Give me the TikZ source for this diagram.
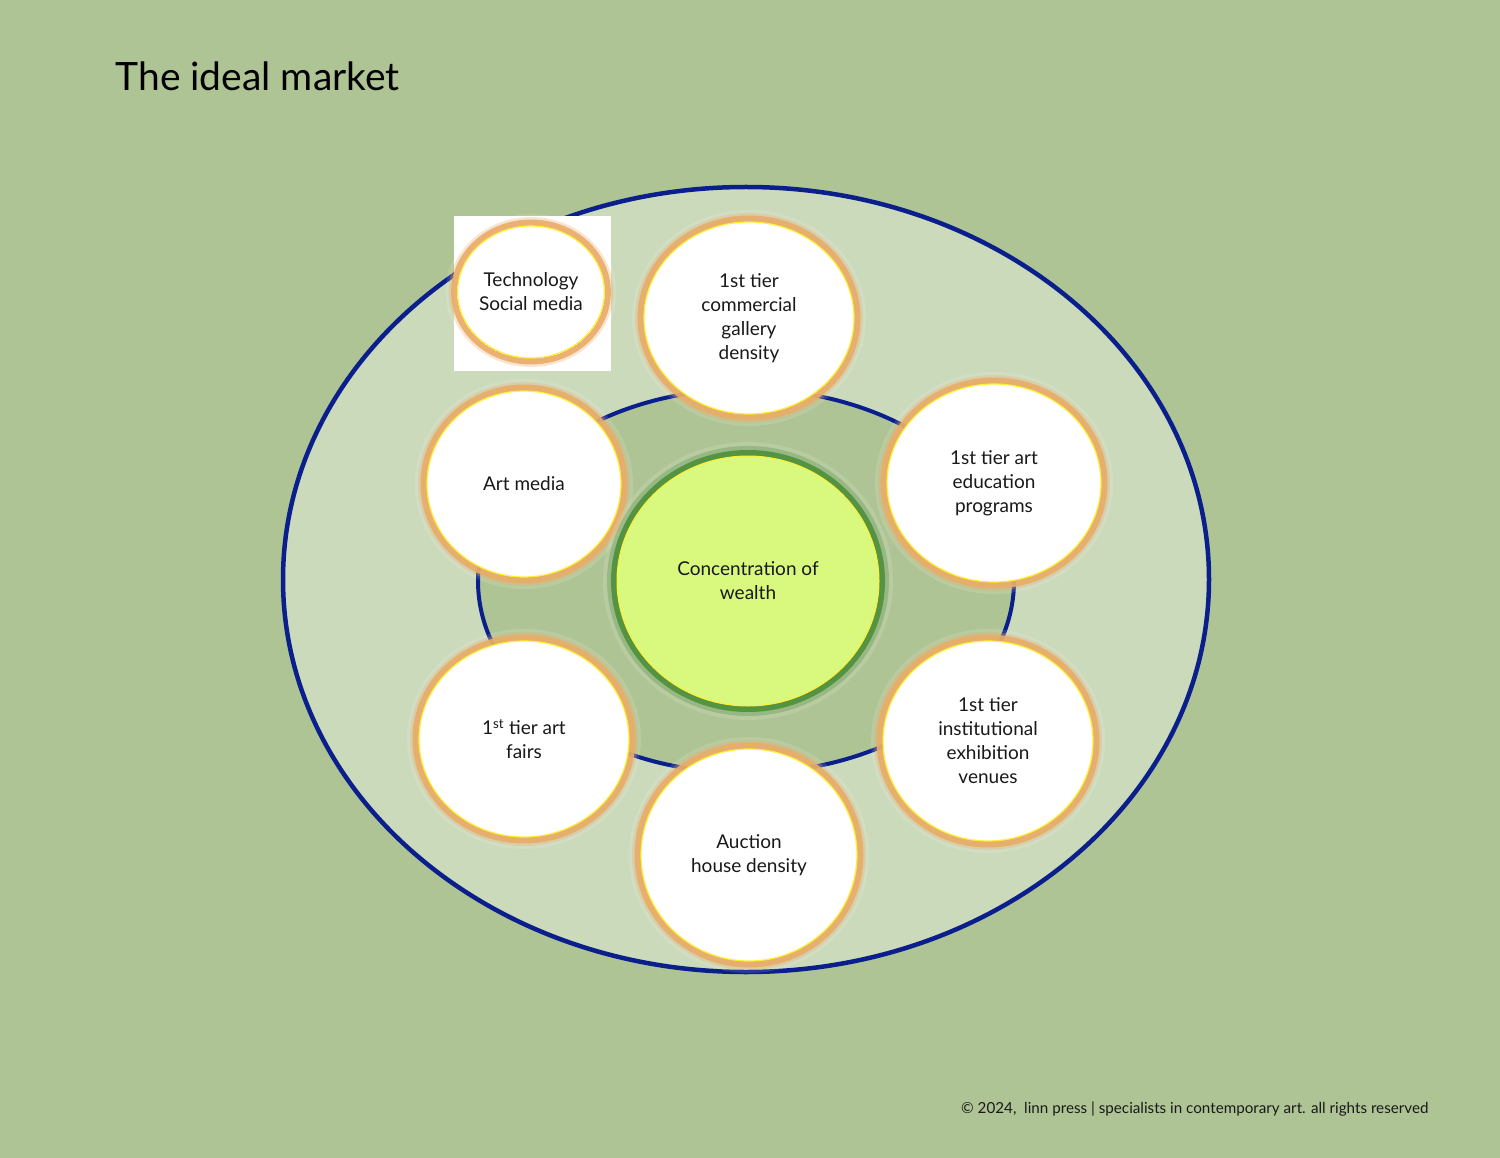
\documentclass[tikz,border=0pt]{standalone}
\usepackage{fontspec}
\setmainfont{Lato}
\usetikzlibrary{shapes.geometric}
\definecolor{bgc}{HTML}{AFC495}
\definecolor{outerc}{HTML}{CBDABB}
\definecolor{navyc}{HTML}{0A1E8C}
\definecolor{limec}{HTML}{D8F97E}
\definecolor{dkgreen}{HTML}{4C8F3C}
\definecolor{glowc}{HTML}{E9AC68}
\definecolor{yellowb}{HTML}{FFEE33}
\newcommand\circfont{\fontsize{19}{24}\selectfont}
\begin{document}
\begin{tikzpicture}[x=1pt,y=-1pt,
  sat/.style={ellipse, inner sep=0pt, fill=white, draw=yellowb, line width=1.2pt,
    align=center, font=\circfont, text=black!90,
    preaction={draw=white, draw opacity=0.12, line width=24pt},
    preaction={draw=glowc, draw opacity=0.3, line width=18pt},
    preaction={draw=glowc, draw opacity=0.9, line width=13pt}},
  core/.style={ellipse, inner sep=0pt, fill=limec, draw=yellowb, line width=1pt,
    align=center, font=\circfont, text=black!90,
    preaction={draw=white, draw opacity=0.12, line width=28pt},
    preaction={draw=dkgreen, draw opacity=0.3, line width=20pt},
    preaction={draw=dkgreen, draw opacity=0.9, line width=12pt}},
  ringline/.style={ellipse, inner sep=0pt, draw=navyc},
]
\useasboundingbox (0,0) rectangle (1500,1158);
\fill[bgc] (0,0) rectangle (1500,1158);

\node[anchor=base west, font=\fontsize{39}{45}\selectfont, text=black] (title) at (112,91) {The ideal market};

\node[ringline, fill=outerc, line width=4.5pt, minimum width=926pt, minimum height=785pt] (outer) at (746,579.5) {};
\node[ringline, fill=bgc, line width=4pt, minimum width=536pt, minimum height=384pt] (ring) at (746,581) {};

\node[fill=white, inner sep=0pt, minimum width=157pt, minimum height=155pt] (techbox) at (532.5,293.5) {};
\node[sat, minimum width=136pt, minimum height=132pt, preaction={draw=white, line width=0pt}] (tech) at (531,292) {Technology\\Social media};

\node[sat, minimum width=210pt, minimum height=192pt] (gallery) at (749,318) {1st tier\\commercial\\gallery\\density};
\node[sat, minimum width=214pt, minimum height=198pt] (edu) at (994,483) {1st tier art\\education\\programs};
\node[sat, minimum width=210pt, minimum height=200pt] (inst) at (988,741) {1st tier\\institutional\\exhibition\\venues};
\node[sat, minimum width=216pt, minimum height=212pt] (auction) at (749,855) {Auction\\house density};
\node[sat, minimum width=210pt, minimum height=196pt] (fairs) at (524,739) {1\textsuperscript{st} tier art\\fairs};
\node[sat, minimum width=194pt, minimum height=186pt] (media) at (524,484) {Art media};

\node[core, minimum width=262pt, minimum height=250pt] (wealth) at (748,581) {Concentration of\\wealth};

\node[anchor=base east, font=\fontsize{15.2}{17}\selectfont, text=black!90] (footer) at (1432,1113) {© 2024,\ \ linn press | specialists in contemporary art. all rights reserved};
\end{tikzpicture}
\end{document}
